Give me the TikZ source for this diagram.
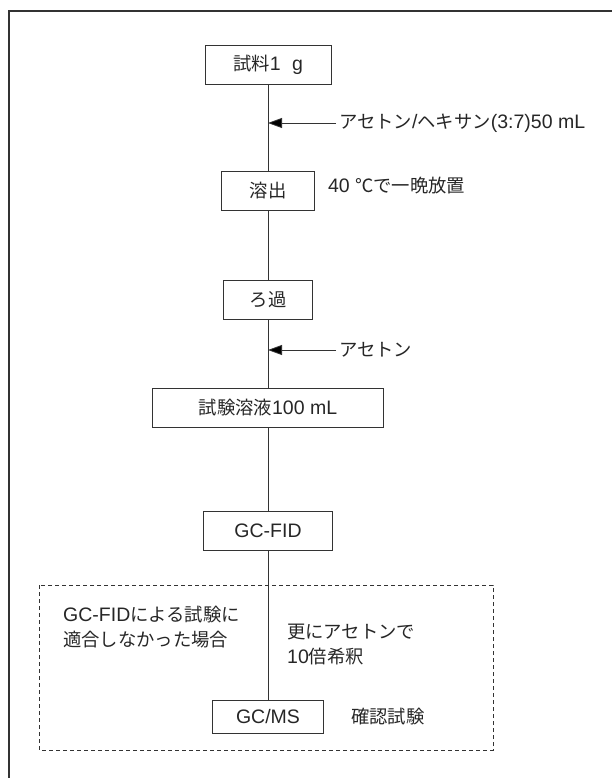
\documentclass[tikz,border=0pt]{standalone}
\usepackage{fontspec}
\setmainfont{Liberation Sans}
\newfontfamily\jpfont{Noto Sans CJK JP}[Scale=0.94]
\usetikzlibrary{arrows.meta,positioning}

\begin{document}
\begin{tikzpicture}[x=1pt,y=-1pt,>={Triangle[length=14pt,width=10pt]},
	every node/.style={font=\fontsize{19.5}{25}\selectfont,text=black!85},
	box/.style={draw=black!80,line width=0.8pt,minimum height=39pt,inner sep=0pt},
	lbl/.style={inner sep=3pt,align=left},
	flow/.style={draw=black!80,line width=0.8pt}]
		 \useasboundingbox (0,0) rectangle (612,778);
		 \draw[black!80,line width=1.2pt] (612,11) -- (9,11) -- (9,778);

		 \node[box,minimum width=126pt]  (sample)   at (268,64.5)                           {{\jpfont 試料}1\hspace{6pt} g};
		 \node[box,minimum width=93pt]   (elute)    [below of = sample, node distance=126pt]  {\jpfont 溶出};
		 \node[box,minimum width=89pt]   (filt)     [below of = elute, node distance=109pt]   {\jpfont ろ過};
		 \node[box,minimum width=231pt]  (testsol)  [below of = filt, node distance=108pt]    {{\jpfont 試験溶液}100 mL};
		 \node[box,minimum width=129pt]  (gcfid)    [below of = testsol, node distance=123pt] {GC-FID};
		 \node[box,minimum width=111pt,minimum height=33pt] (gcms) [below of = gcfid, node distance=186pt] {GC/MS};

		 \node[lbl,anchor=west]          (solv1)    at (336,123)                            {{\jpfont アセトン}/{\jpfont ヘキサン}(3:7)50 mL};
		 \node[lbl,anchor=west]          (cond)     [right=10pt of elute, yshift=5pt]        {40 {\jpfont ℃で一晩放置}};
		 \node[lbl,anchor=west]          (solv2)    at (336,350)                            {\jpfont アセトン};
		 \node[lbl,anchor=west]          (fail)     at (60,627.5)                           {GC-FID{\jpfont による試験に}\\{\jpfont 適合しなかった場合}};
		 \node[lbl,anchor=west]          (dilute)   at (284,645)                            {{\jpfont 更にアセトンで}\\10{\jpfont 倍希釈}};
		 \node[lbl,anchor=west]          (confirm)  [right=24pt of gcms]                    {\jpfont 確認試験};

		 \coordinate (in1) at (sample.south |- solv1);
		 \coordinate (in2) at (filt.south |- solv2);

		 % dashed frame round the confirmation step
		 \draw[black!80,line width=0.8pt,dash pattern=on 4pt off 3pt] (39,585) rectangle (493,750);

		 \path[flow]	(sample)	edge	(elute)
					(elute)		edge	(filt)
					(filt)		edge	(testsol)
					(testsol)	edge	(gcfid)
					(gcfid)		edge	(gcms);
		 \path[flow,->]	(solv1)	edge	(in1)
					(solv2)		edge	(in2);
	\end{tikzpicture}
\end{document}
